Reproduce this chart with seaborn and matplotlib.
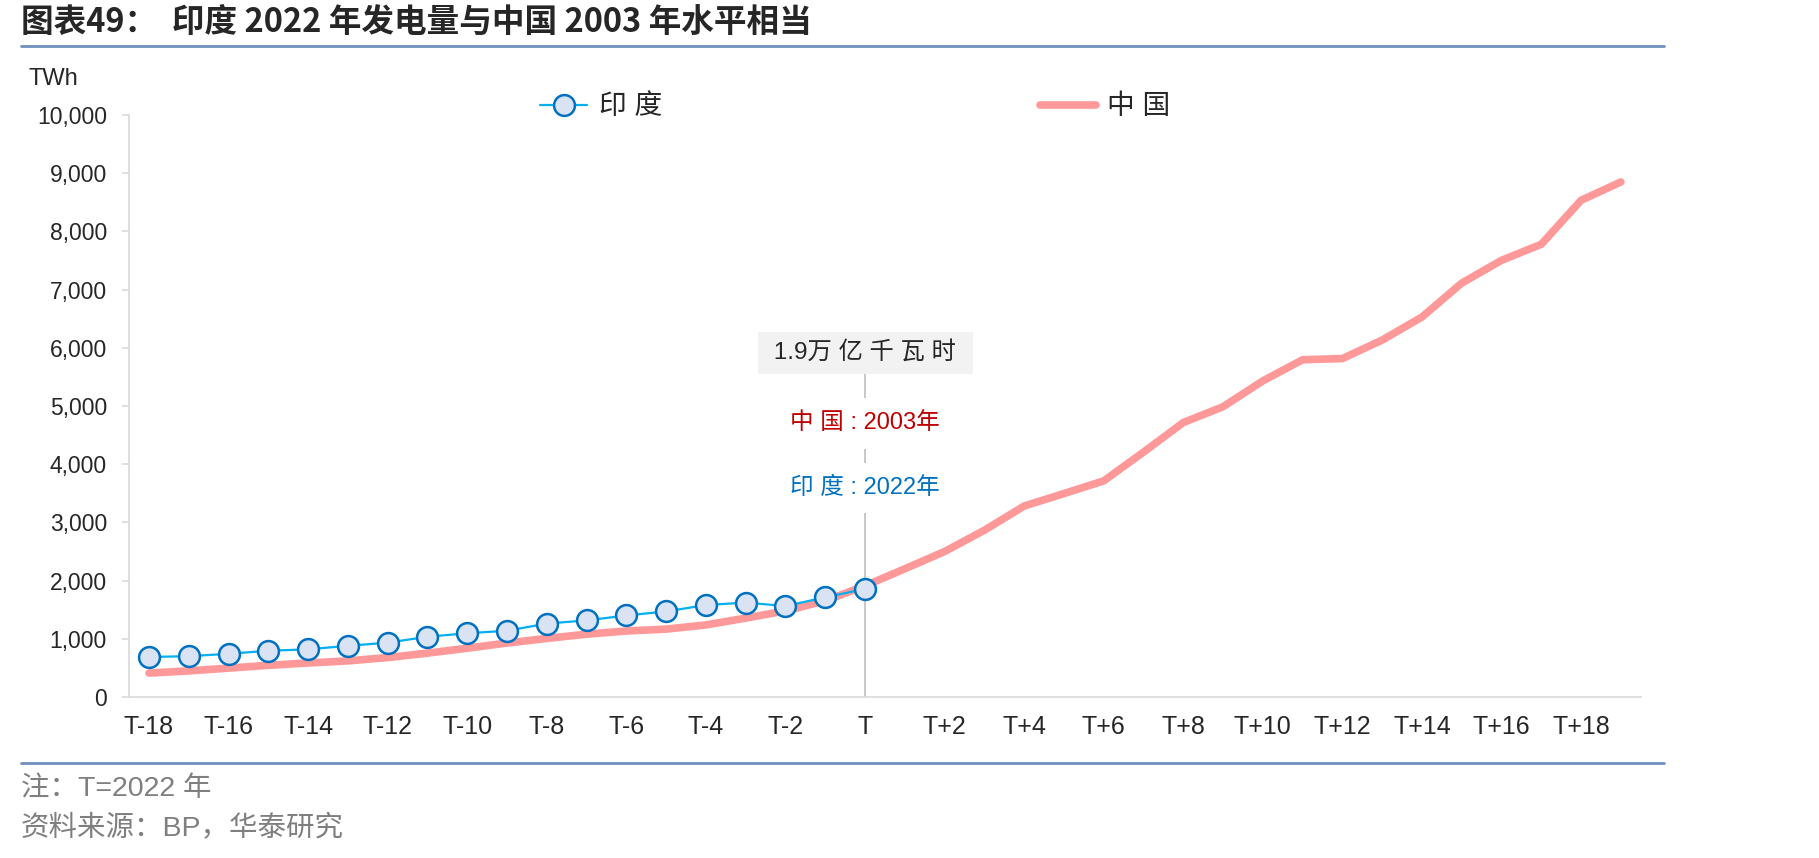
import numpy as np
import pandas as pd
import matplotlib
matplotlib.use('Agg')
import matplotlib.pyplot as plt
import seaborn as sns
from matplotlib.lines import Line2D
from matplotlib.ticker import StrMethodFormatter

# 数据：T=2022（印度），中国同位置对应 2003 年
periods = [f'T{i:+d}' if i != 0 else 'T' for i in range(-18, 20)]
china = [411, 449, 497, 545, 585, 621, 678, 754, 839, 928, 1007, 1080, 1135, 1167,
         1239, 1356, 1480, 1654, 1911, 2203, 2500, 2866, 3282, 3496, 3714, 4208,
         4716, 4988, 5432, 5795, 5815, 6133, 6529, 7112, 7503, 7779, 8534, 8849]
india = [688, 702, 743, 795, 820, 880, 934, 1036, 1096, 1139, 1262, 1317, 1401,
         1471, 1580, 1623, 1563, 1714, 1858]

sns.set_style('white')
plt.rcParams['font.family'] = ['Liberation Sans', 'Noto Sans CJK SC', 'DejaVu Sans']
plt.rcParams['axes.unicode_minus'] = False

pos = np.arange(len(periods))
df_cn = pd.DataFrame({'pos': pos, 'val': china})
df_in = pd.DataFrame({'pos': pos[:len(india)], 'val': india})

fig = plt.figure(figsize=(18.19, 8.58), dpi=100)
ax = fig.add_axes([0.071, 0.1876, 0.831, 0.6784])

sns.lineplot(data=df_cn, x='pos', y='val', ax=ax, color='#FF9999', lw=5.5,
             legend=False, zorder=3)
sns.lineplot(data=df_in, x='pos', y='val', ax=ax, color='#00B0F0', lw=1.6,
             marker='o', markersize=15, markerfacecolor='#DAE3F3',
             markeredgecolor='#0070C0', markeredgewidth=1.8, legend=False, zorder=4)
line_cn, line_in = ax.lines[0], ax.lines[1]

ax.set_xlim(-0.5, len(periods) - 0.5)
ax.set_ylim(0, 10000)
ax.set_xlabel('')
ax.set_ylabel('')
ax.set_yticks(np.arange(0, 10001, 1000))
ax.yaxis.set_major_formatter(StrMethodFormatter('{x:,.0f}'))
ax.set_xticks(pos[::2])
ax.set_xticklabels(periods[::2], family=['Liberation Sans Narrow', 'Liberation Sans'])
ax.set_xticks(np.arange(-0.5, len(periods)), minor=True)
ax.tick_params(axis='x', which='major', length=0, labelsize=18, pad=13)
ax.tick_params(axis='x', which='minor', length=6, color='#D9D9D9', width=1.2)
ax.tick_params(axis='y', length=5, color='#D9D9D9', width=1.2, labelsize=16.5, pad=11,
               left=True)
for s in ['top', 'right']:
    ax.spines[s].set_visible(False)
for s in ['left', 'bottom']:
    ax.spines[s].set_color('#D9D9D9')
    ax.spines[s].set_linewidth(1.2)

# T 处标注
t_idx = periods.index('T')
ax.vlines(t_idx, 0, 5600, color='#BFBFBF', lw=1.2, zorder=1)
ax.text(t_idx, 5915, ' 1.9万 亿 千 瓦 时 ', ha='center', va='center', fontsize=17.5,
        color='#262626', bbox=dict(boxstyle='square,pad=0.4', fc='#F2F2F2', ec='none'))
ax.text(t_idx, 4700, '中 国 : 2003年', ha='center', va='center', fontsize=17,
        color='#C00000', bbox=dict(boxstyle='square,pad=0.6', fc='white', ec='none'), zorder=2)
ax.text(t_idx, 3590, '印 度 : 2022年', ha='center', va='center', fontsize=17,
        color='#0070C0', bbox=dict(boxstyle='square,pad=0.6', fc='white', ec='none'), zorder=2)

# 图例
fig.legend(handles=[line_in], labels=['印 度'], loc='center left',
           bbox_to_anchor=(0.297, 0.875), frameon=False, borderaxespad=0, borderpad=0,
           handlelength=1.7, handletextpad=0.4, fontsize=20)
fig.legend(handles=[line_cn], labels=['中 国'], loc='center left',
           bbox_to_anchor=(0.572, 0.875), frameon=False, borderaxespad=0, borderpad=0,
           handlelength=2.0, handletextpad=0.4, fontsize=20)

fig.text(0.0155, 0.908, 'TWh', fontsize=17, va='center', ha='left')

# 标题与分隔线
fig.text(0.0115, 0.974, '图表49：  印度 2022 年发电量与中国 2003 年水平相当', fontsize=23.5,
         fontweight='bold', va='center', ha='left',
         family=['Liberation Sans Narrow', 'Noto Sans CJK SC'])
fig.add_artist(Line2D([0.0115, 0.915], [0.946, 0.946], color='#6F8FC0', lw=2))
fig.add_artist(Line2D([0.0115, 0.915], [0.111, 0.111], color='#6F8FC0', lw=2))

fig.text(0.0115, 0.080, '注：T=2022 年', fontsize=20.5, color='#7F7F7F', va='center')
fig.text(0.0115, 0.035, '资料来源：BP，华泰研究', fontsize=20.5, color='#7F7F7F', va='center')

fig.savefig('out.png', dpi=100)
